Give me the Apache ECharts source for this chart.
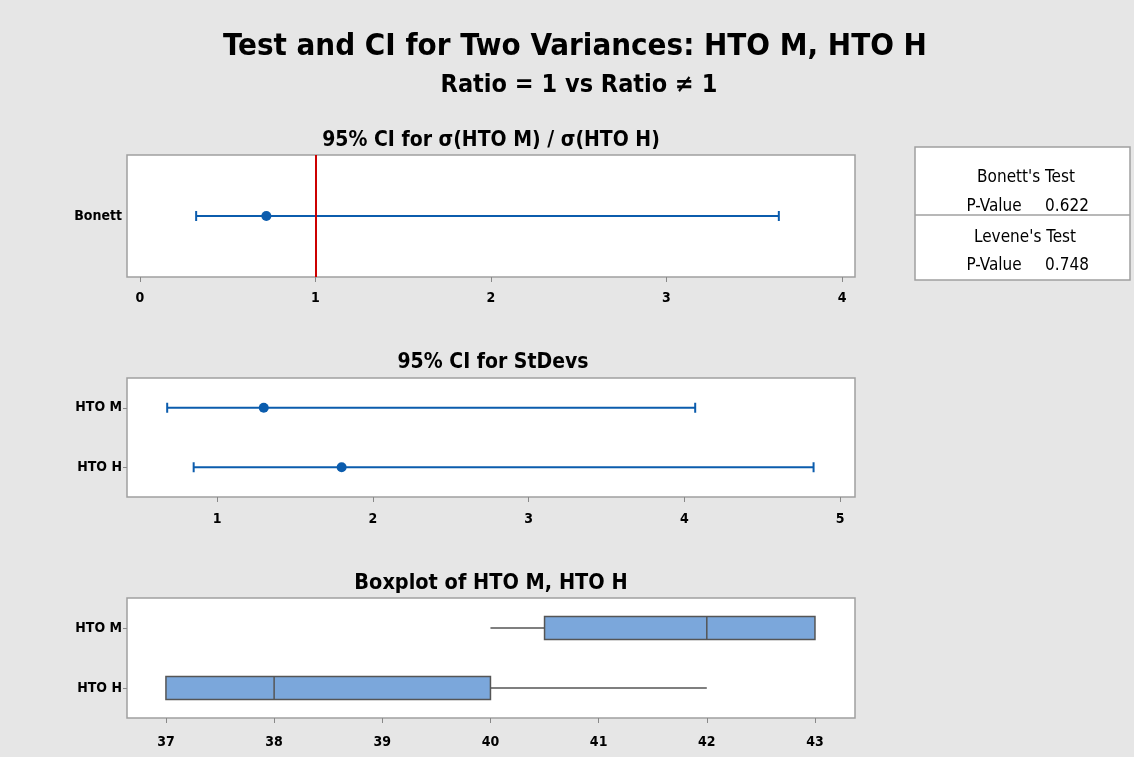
<!DOCTYPE html>
<html>
<head>
<meta charset="utf-8">
<script src="https://cdn.jsdelivr.net/npm/echarts@6/dist/echarts.min.js"></script>
<style>
  html, body { margin: 0; padding: 0; background: #e6e6e6; }
  #main { width: 1134px; height: 757px; }
</style>
</head>
<body>
<div id="main"></div>
<script>
// ratio panel
const ratioCats = ['Bonett'];
const ratioLower = [0.32];
const ratioUpper = [3.64];
const ratioEst = [0.72];
const ratioTicks = [0, 1, 2, 3, 4];

// stdev panel (bottom to top)
const sdCats = ['HTO H', 'HTO M'];
const sdLower = [0.85, 0.68];
const sdUpper = [4.83, 4.07];
const sdEst = [1.80, 1.30];
const sdTicks = [1, 2, 3, 4, 5];

// boxplot panel: min, q1, median, q3, max
const boxCats = ['HTO H', 'HTO M'];
const boxStats = [
  [37, 37, 38, 40, 42],
  [40, 40.5, 42, 43, 43]
];
const boxTicks = [37, 38, 39, 40, 41, 42, 43];

const pValues = { bonett: '0.622', levene: '0.748' };

const FONT = '"Liberation Sans Narrow", "DejaVu Sans Condensed", sans-serif';
const BLUE = '#0b5cad';

var myChart = echarts.init(document.getElementById('main'));

function ciItem(params, api) {
  var lo = api.coord([api.value(0), api.value(2)]);
  var hi = api.coord([api.value(1), api.value(2)]);
  var s = { stroke: BLUE, lineWidth: 2 };
  return {
    type: 'group',
    children: [
      { type: 'line', shape: { x1: lo[0], y1: lo[1], x2: hi[0], y2: hi[1] }, style: s },
      { type: 'line', shape: { x1: lo[0], y1: lo[1] - 5, x2: lo[0], y2: lo[1] + 5 }, style: s },
      { type: 'line', shape: { x1: hi[0], y1: hi[1] - 5, x2: hi[0], y2: hi[1] + 5 }, style: s }
    ]
  };
}

function boxItem(params, api) {
  var c = api.value(5);
  var p = [0, 1, 2, 3, 4].map(function (i) { return api.coord([api.value(i), c]); });
  var y = p[0][1];
  var hh = 11.5;
  var s = { stroke: '#555', lineWidth: 1.5 };
  return {
    type: 'group',
    children: [
      { type: 'line', shape: { x1: p[0][0], y1: y, x2: p[1][0], y2: y }, style: s },
      { type: 'line', shape: { x1: p[3][0], y1: y, x2: p[4][0], y2: y }, style: s },
      { type: 'rect', shape: { x: p[1][0], y: y - hh, width: p[3][0] - p[1][0], height: hh * 2 },
        style: { fill: '#7ba7db', stroke: '#555', lineWidth: 1.5 } },
      { type: 'line', shape: { x1: p[2][0], y1: y - hh, x2: p[2][0], y2: y + hh }, style: s }
    ]
  };
}

function xAxisOf(idx, min, max, ticks, margin) {
  return {
    type: 'value', gridIndex: idx, min: min, max: max,
    axisLine: { show: false },
    axisTick: { show: true, length: 5, customValues: ticks, lineStyle: { color: '#888' } },
    axisLabel: { customValues: ticks, margin: margin, color: '#000', fontWeight: 'bold', fontSize: 14, fontFamily: FONT },
    splitLine: { show: false }
  };
}

function yAxisOf(idx, cats, tick) {
  return {
    type: 'category', gridIndex: idx, data: cats,
    axisLine: { show: false },
    axisTick: { show: tick, length: 4, alignWithLabel: true, lineStyle: { color: '#888' } },
    axisLabel: { margin: 5, color: '#000', fontWeight: 'bold', fontSize: 14, fontFamily: FONT },
    splitLine: { show: false }
  };
}

var gridBase = { left: 127, width: 728, show: true, backgroundColor: '#fff', borderColor: '#a0a0a0', borderWidth: 1.5, containLabel: false };

function text(t, x, y, size, weight) {
  return {
    type: 'text', x: x, y: y,
    style: { text: t, fill: '#000', font: (weight || 'bold') + ' ' + size + 'px ' + FONT, textAlign: 'center', textVerticalAlign: 'middle' }
  };
}

myChart.setOption({
  backgroundColor: '#e6e6e6',
  animation: false,
  grid: [
    Object.assign({ top: 155, height: 122 }, gridBase),
    Object.assign({ top: 378, height: 119 }, gridBase),
    Object.assign({ top: 598, height: 120 }, gridBase)
  ],
  xAxis: [
    xAxisOf(0, -0.074, 4.074, ratioTicks, 14),
    xAxisOf(1, 0.422, 5.096, sdTicks, 15),
    xAxisOf(2, 36.64, 43.37, boxTicks, 17)
  ],
  yAxis: [
    yAxisOf(0, ratioCats, false),
    yAxisOf(1, sdCats, true),
    yAxisOf(2, boxCats, true)
  ],
  series: [
    {
      type: 'custom', xAxisIndex: 0, yAxisIndex: 0,
      renderItem: ciItem,
      encode: { x: [0, 1], y: 2 },
      data: ratioCats.map(function (c, i) { return [ratioLower[i], ratioUpper[i], i]; })
    },
    {
      type: 'scatter', xAxisIndex: 0, yAxisIndex: 0, symbolSize: 10,
      itemStyle: { color: BLUE, opacity: 1 },
      data: ratioCats.map(function (c, i) { return [ratioEst[i], c]; }),
      markLine: {
        silent: true, symbol: 'none', label: { show: false },
        lineStyle: { color: '#cc0000', width: 2, type: 'solid' },
        data: [{ xAxis: 1 }]
      }
    },
    {
      type: 'custom', xAxisIndex: 1, yAxisIndex: 1,
      renderItem: ciItem,
      encode: { x: [0, 1], y: 2 },
      data: sdCats.map(function (c, i) { return [sdLower[i], sdUpper[i], i]; })
    },
    {
      type: 'scatter', xAxisIndex: 1, yAxisIndex: 1, symbolSize: 10,
      itemStyle: { color: BLUE, opacity: 1 },
      data: sdCats.map(function (c, i) { return [sdEst[i], c]; })
    },
    {
      type: 'custom', xAxisIndex: 2, yAxisIndex: 2,
      renderItem: boxItem,
      encode: { x: [0, 1, 2, 3, 4], y: 5 },
      data: boxStats.map(function (b, i) { return b.concat([i]); })
    }
  ],
  graphic: [
    text('Test and CI for Two Variances: HTO M, HTO H', 575, 47, 31),
    text('Ratio = 1 vs Ratio \u2260 1', 579, 85, 25),
    text('95% CI for \u03c3(HTO M) / \u03c3(HTO H)', 491, 141, 21),
    text('95% CI for StDevs', 493, 363, 21),
    text('Boxplot of HTO M, HTO H', 491, 583, 21.5),
    {
      type: 'rect', shape: { x: 915, y: 147, width: 215, height: 133 },
      style: { fill: '#fff', stroke: '#a0a0a0', lineWidth: 1.5 }
    },
    {
      type: 'line', shape: { x1: 915, y1: 215, x2: 1130, y2: 215 },
      style: { stroke: '#a0a0a0', lineWidth: 1.5 }
    },
    text("Bonett's Test", 1026, 178, 17, 'normal'),
    text('P-Value', 994, 207, 17, 'normal'),
    text(pValues.bonett, 1067, 207, 17, 'normal'),
    text("Levene's Test", 1025, 238, 17, 'normal'),
    text('P-Value', 994, 266, 17, 'normal'),
    text(pValues.levene, 1067, 266, 17, 'normal')
  ]
});
</script>
</body>
</html>
